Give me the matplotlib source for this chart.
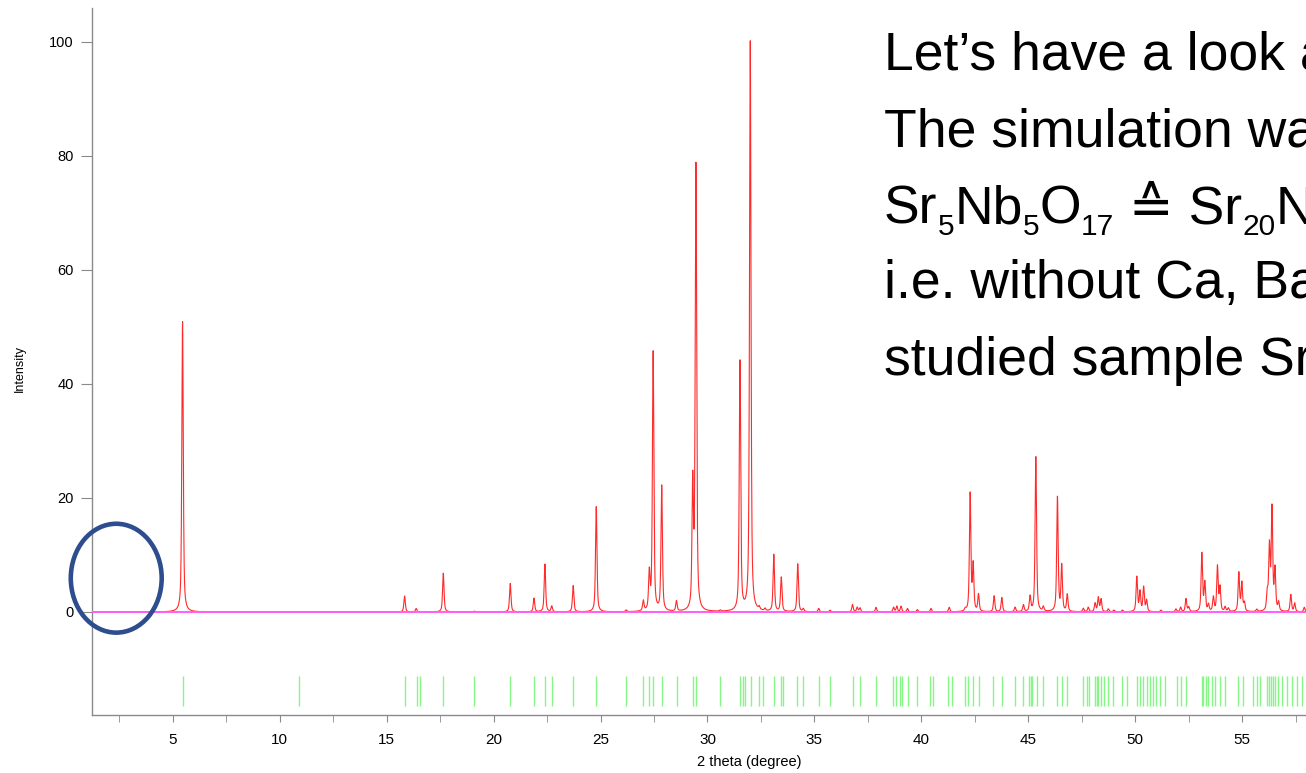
import numpy as np
import matplotlib
matplotlib.use("Agg")
import matplotlib.pyplot as plt
from matplotlib.patches import Ellipse

plt.rcParams["font.family"] = ["Liberation Sans", "DejaVu Sans"]

# simulated peaks: 2theta position, relative intensity
peak_pos = [5.46, 15.84, 16.38, 17.65, 19.10, 20.78, 21.89, 22.40, 22.72, 23.72,
            24.80, 26.20, 27.00, 27.28, 27.46, 27.86, 28.55, 29.31, 29.46, 30.60,
            31.52, 32.00, 32.42, 32.69, 33.10, 33.45, 34.22, 34.48, 35.20, 35.73,
            36.78, 37.00, 37.13, 37.88, 38.70, 38.85, 39.05, 39.35, 39.81, 40.45,
            41.30, 42.05, 42.28, 42.42, 42.67, 43.40, 43.76, 44.38, 44.77, 45.08,
            45.35, 45.70, 46.36, 46.56, 46.82, 47.57, 47.80, 48.12, 48.27, 48.40,
            48.74, 49.00, 49.40, 50.07, 50.22, 50.39, 50.53, 51.20, 51.90, 52.12,
            52.37, 52.50, 53.11, 53.25, 53.42, 53.65, 53.84, 53.96, 54.20, 54.35,
            54.84, 54.98, 55.10, 55.68, 56.17, 56.27, 56.39, 56.53, 56.70, 57.27,
            57.45, 57.90]
peak_int = [51.0, 2.8, 0.6, 6.8, 0.15, 5.0, 2.4, 8.4, 1.0, 4.6,
            18.5, 0.3, 1.8, 6.5, 45.5, 22.0, 1.8, 21.7, 78.0, 0.2,
            43.8, 100.0, 0.5, 0.4, 10.0, 6.0, 8.4, 0.5, 0.6, 0.3,
            1.3, 0.8, 0.7, 0.8, 0.8, 1.0, 1.0, 0.6, 0.4, 0.6,
            0.8, 0.4, 20.7, 8.0, 3.0, 2.8, 2.5, 0.8, 1.2, 2.6,
            27.2, 0.8, 20.1, 8.0, 3.0, 0.6, 0.8, 1.5, 2.5, 2.2,
            0.5, 0.3, 0.3, 6.1, 3.5, 4.3, 2.0, 0.3, 0.5, 0.8,
            2.3, 0.8, 10.2, 5.0, 1.2, 2.5, 7.9, 4.2, 0.8, 0.6,
            6.8, 5.0, 1.5, 0.4, 3.0, 11.2, 17.9, 7.2, 1.5, 3.0,
            1.5, 0.8]

# Bragg reflection positions (green marks)
hkl_pos = [5.47, 10.90, 15.86, 16.40, 16.56, 17.65, 19.10, 20.78, 21.90, 22.41,
           22.72, 23.73, 24.79, 26.18, 26.97, 27.28, 27.44, 27.86, 28.56, 29.31,
           29.46, 30.58, 31.52, 31.65, 31.76, 32.02, 32.42, 32.61, 33.11, 33.42,
           33.52, 34.20, 34.48, 35.23, 35.73, 36.79, 37.13, 37.88, 38.69, 38.81,
           39.00, 39.08, 39.36, 39.81, 40.40, 40.53, 41.26, 41.42, 42.04, 42.20,
           42.41, 42.67, 43.36, 43.76, 44.38, 44.77, 45.05, 45.11, 45.16, 45.39,
           45.70, 46.36, 46.56, 46.82, 47.57, 47.73, 47.85, 48.12, 48.20, 48.27,
           48.38, 48.54, 48.74, 48.97, 49.37, 49.60, 50.10, 50.22, 50.38, 50.56,
           50.69, 50.84, 50.97, 51.16, 51.39, 51.94, 52.12, 52.37, 53.11, 53.18,
           53.31, 53.42, 53.57, 53.73, 53.96, 54.20, 54.82, 55.05, 55.49, 55.68,
           55.83, 56.17, 56.27, 56.33, 56.43, 56.53, 56.69, 56.85, 57.08, 57.31,
           57.55, 57.78]

text_lines = [
    [("Let\u2019s have a look at", 0)],
    [("The simulation was", 0)],
    [("Sr", 0), ("5", 1), ("Nb", 0), ("5", 1), ("O", 0), ("17", 1), (" \u2259 Sr", 0),
     ("20", 1), ("Nb", 0), ("20", 1), ("O", 0), ("68", 1)],
    [("i.e. without Ca, Ba", 0)],
    [("studied sample Sr", 0)],
]

W, H = 1306, 773
fig = plt.figure(figsize=(W / 100, H / 100), dpi=100)
ax = fig.add_axes([92 / W, 58 / H, 1 - 92 / W, (715 - 8) / H])

# pseudo-Voigt profile built from the peak list
tt = np.linspace(1.25, 58.6, 14000)
fwhm, eta = 0.08, 0.6
prof = np.zeros_like(tt)
for p, h in zip(peak_pos, peak_int):
    d = tt - p
    lor = 1.0 / (1.0 + (2 * d / fwhm) ** 2)
    gau = np.exp(-4 * np.log(2) * (d / fwhm) ** 2)
    prof += h * (eta * lor + (1 - eta) * gau)

ax.plot(tt, prof, color="#ff2a2a", lw=0.8, zorder=3)
ax.axhline(0, color="#ff5cff", lw=1.4, zorder=4)
ax.vlines(hkl_pos, -16.5, -11.2, color="#86f786", lw=1.0, zorder=2)

ax.set_xlim(1.227, 57.98)
ax.set_ylim(-18.07, 105.96)

for s in ["top", "right"]:
    ax.spines[s].set_visible(False)
for s in ["left", "bottom"]:
    ax.spines[s].set_color("#8a8a8a")
    ax.spines[s].set_linewidth(1.0)

ax.set_yticks([0, 20, 40, 60, 80, 100])
ax.set_xticks(np.arange(5, 60, 5))
ax.set_xticks(np.arange(2.5, 60, 5), minor=True)
ax.tick_params(axis="y", length=8, color="#8a8a8a", labelsize=10.5, pad=5)
ax.tick_params(axis="x", which="both", length=5, color="#8a8a8a", labelsize=11, pad=8)

ax.set_ylabel("Intensity", fontsize=9)
ax.yaxis.set_label_coords(-(92 - 26) / (W - 92), 0.49)
ax.set_xlabel("2 theta (degree)", fontsize=10.5)
ax.xaxis.set_label_coords((749 - 92) / (W - 92), -(755 - 715) / (715 - 8))

# marker ellipse around the low-angle region
ax.add_patch(Ellipse((2.36, 5.93), 4.25, 19.1, fill=False, edgecolor="#2e4d8e",
                     lw=3.3, clip_on=False, zorder=6))

# slide text (runs off the right edge)
renderer = fig.canvas.get_renderer()
fs = 38.5
baselines = [70, 146.7, 223.3, 298.3, 375]
for parts, by in zip(text_lines, baselines):
    x = 884 / W
    for s, sub in parts:
        size = fs * 0.56 if sub else fs
        y = 1 - (by + (11.7 if sub else 0)) / H
        t = fig.text(x, y, s, fontsize=size, va="baseline", ha="left", color="black")
        x += t.get_window_extent(renderer).width / W

fig.savefig("out.png", dpi=100)
